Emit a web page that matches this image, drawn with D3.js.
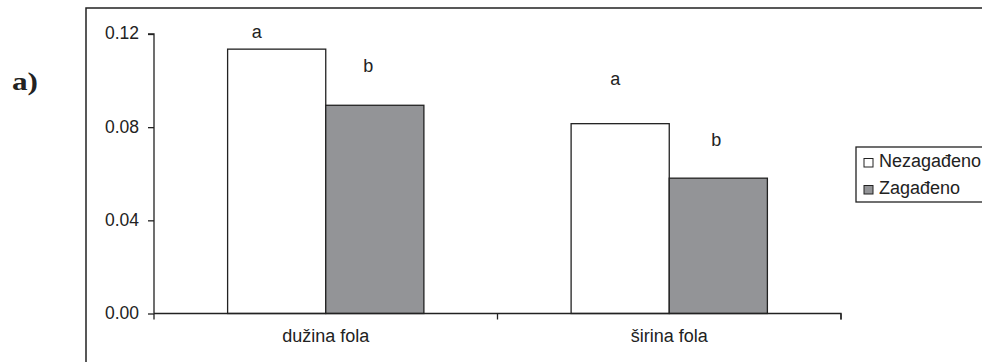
<!DOCTYPE html>
<html><head><meta charset="utf-8">
<script src="https://cdn.jsdelivr.net/npm/d3@7"></script>
<style>
html,body{margin:0;padding:0;background:#fff;}
svg{display:block;}
text{font-family:"Liberation Sans",Arial,sans-serif;fill:#222;}
</style></head>
<body>
<script>
const categories = ["dužina fola", "širina fola"];
const seriesNames = ["Nezagađeno", "Zagađeno"];
const nezagadjeno = [0.1135, 0.0815];
const zagadjeno = [0.0894, 0.0581];
const letterNez = ["a", "a"];
const letterZag = ["b", "b"];
const letterNezPos = [0.1184, 0.0982];
const letterZagPos = [0.1035, 0.0717];
const yTicks = [0.00, 0.04, 0.08, 0.12];

const W = 982, H = 362;
const FS = "18px";
const svg = d3.select("body").append("svg").attr("width", W).attr("height", H);

// outer frame (extends beyond view on right and bottom)
svg.append("rect").attr("x", 86).attr("y", 8).attr("width", 1000).attr("height", 400)
  .attr("fill", "none").attr("stroke", "#222").attr("stroke-width", 1.5);

svg.append("text").attr("transform", "translate(12,90) scale(1.25,1)")
  .style("font-family", "'Liberation Serif','Times New Roman',serif")
  .style("font-weight", "bold").style("font-size", "25px").attr("fill", "#111").text("a)");

const x0 = 154, x1 = 841, yb = 313.5, yt = 34;
const x = d3.scaleBand().domain(categories).range([x0, x1]).paddingInner(0).paddingOuter(0);
const y = d3.scaleLinear().domain([0, 0.12]).range([yb, yt]);
const xs = d3.scaleBand().domain(seriesNames).range([0, x.bandwidth()]).paddingInner(0).paddingOuter(0.75);

const g = svg.append("g");
const labelShift = [[-20, -6.5], [-5, -2]];
const data = categories.map((c, i) => ({c, i, vals: [nezagadjeno[i], zagadjeno[i]], letters: [letterNez[i], letterZag[i]], lpos: [letterNezPos[i], letterZagPos[i]]}));
const fills = ["#ffffff", "#939497"];

data.forEach(d => {
  d.vals.forEach((v, j) => {
    g.append("rect").attr("x", x(d.c) + xs(seriesNames[j])).attr("y", y(v))
      .attr("width", xs.bandwidth()).attr("height", yb - y(v))
      .attr("fill", fills[j]).attr("stroke", "#222").attr("stroke-width", 1.3);
    g.append("text").attr("x", x(d.c) + xs(seriesNames[j]) + xs.bandwidth() / 2 + labelShift[d.i][j])
      .attr("y", y(d.lpos[j])).attr("text-anchor", "middle").style("font-size", FS).text(d.letters[j]);
  });
});

// y axis
const ya = svg.append("g").attr("transform", `translate(${x0},0)`)
  .call(d3.axisLeft(y).tickValues(yTicks).tickFormat(d3.format(".2f")).tickSize(6).tickPadding(9));
ya.select(".domain").attr("stroke", "#222").attr("stroke-width", 1.3).attr("d", `M-6,${yt}H0V${yb}`);
ya.selectAll(".tick line").attr("stroke", "#222").attr("stroke-width", 1.3);
ya.selectAll(".tick text").attr("dy", "0.28em").style("font-size", "17.5px").style("font-family", "'Liberation Sans',Arial,sans-serif").attr("fill", "#222");

// x axis
const xa = svg.append("g").attr("transform", `translate(0,${yb})`)
  .call(d3.axisBottom(x).tickSize(0).tickPadding(16));
xa.select(".domain").attr("stroke", "#222").attr("stroke-width", 1.3).attr("d", `M${x0},0H${x1}V6`);
xa.selectAll(".tick text").style("font-size", FS).style("font-family", "'Liberation Sans',Arial,sans-serif").attr("fill", "#222");
// category boundary ticks
const bounds = [x0, ...categories.slice(1).map(c => x(c)), x1];
xa.selectAll(".bt").data(bounds).enter().append("line").attr("class", "bt")
  .attr("x1", d => d).attr("x2", d => d).attr("y1", 0).attr("y2", 6).attr("stroke", "#222").attr("stroke-width", 1.3);

// legend
const lg = svg.append("g").attr("transform", "translate(856,147)");
lg.append("rect").attr("width", 200).attr("height", 55).attr("fill", "#fff").attr("stroke", "#222").attr("stroke-width", 1.3);
seriesNames.forEach((s, i) => {
  lg.append("rect").attr("x", 8).attr("y", 11.5 + i * 27).attr("width", 9).attr("height", 8.5)
    .attr("fill", fills[i]).attr("stroke", "#222").attr("stroke-width", 1);
  lg.append("text").attr("x", 23).attr("y", 20 + i * 26.5).style("font-size", FS).text(s);
});
</script>
</body></html>
